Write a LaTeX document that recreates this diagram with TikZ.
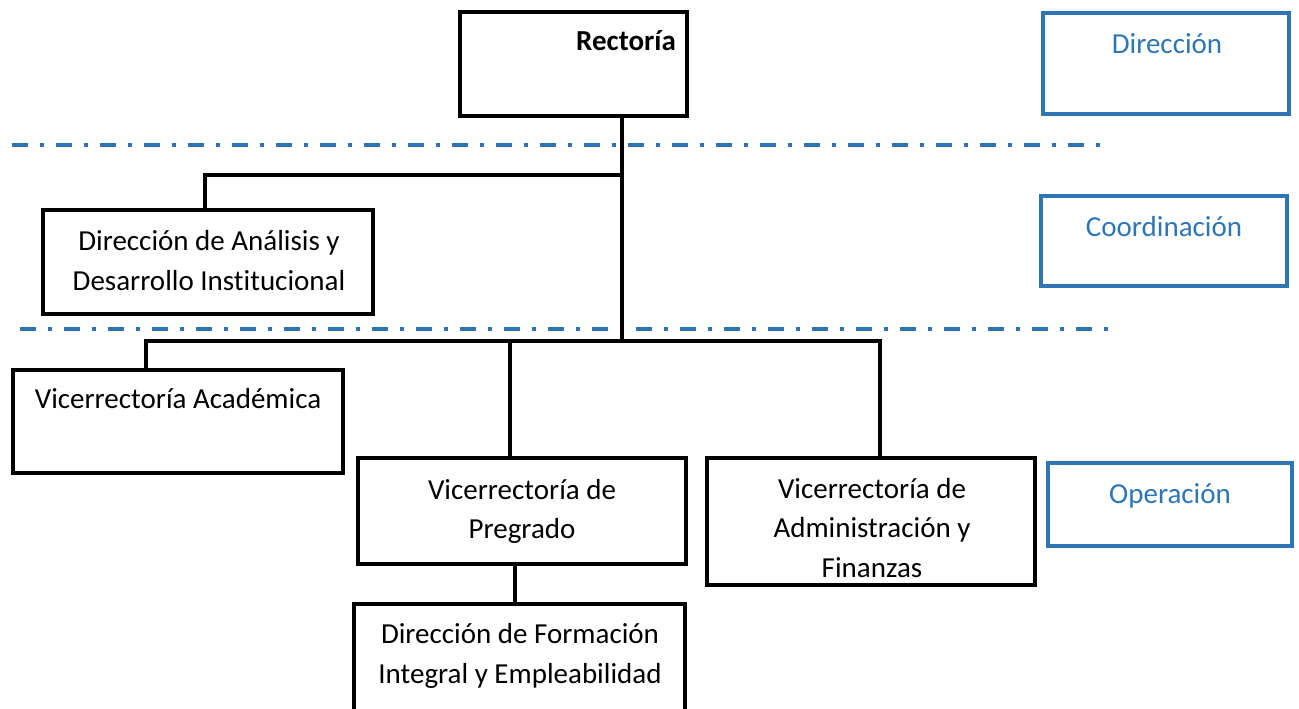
\documentclass[tikz,border=0pt]{standalone}
\usepackage{fontspec}
\setmainfont[Ligatures=NoCommon]{Carlito}
\definecolor{wblue}{HTML}{2E75B6}
\begin{document}
\begin{tikzpicture}[x=1pt,y=-1pt,
  box/.style={draw=black,line width=4pt,inner sep=0pt,rectangle},
  bbox/.style={draw=wblue,line width=3.5pt,inner sep=0pt,rectangle},
  txt/.style={anchor=base,inner sep=0pt,font=\fontsize{29}{35}\selectfont},
  btxt/.style={txt,text=wblue},
  conn/.style={line width=3.5pt},
  level/.style={draw=wblue,line width=4pt,dash pattern=on 16pt off 12pt on 4pt off 12pt}]
\useasboundingbox (0,0) rectangle (1299,709);
\clip (0,0) rectangle (1299,709);
% boxes
\node[box,minimum width=227pt,minimum height=104pt] (rect) at (573.5,64) {};
\node[bbox,minimum width=246pt,minimum height=101pt] (dir) at (1166,63.5) {};
\node[box,minimum width=330pt,minimum height=104pt] (dai) at (208,262) {};
\node[bbox,minimum width=246pt,minimum height=90pt] (coo) at (1164,241) {};
\node[box,minimum width=330pt,minimum height=103pt] (va) at (178,421.5) {};
\node[box,minimum width=328pt,minimum height=106pt] (vp) at (522,511) {};
\node[box,minimum width=328pt,minimum height=127pt] (vf) at (871,521.5) {};
\node[bbox,minimum width=244pt,minimum height=83pt] (op) at (1170,504.5) {};
\node[box,minimum width=331pt,minimum height=126pt] (dfi) at (519.5,667) {};
% texts
\node[txt,font=\fontsize{29}{35}\selectfont\bfseries] (rectT) at (626,51) {Rectoría};
\node[btxt] (dirT) at (1167,54) {Dirección};
\node[txt] (daiT1) at (209,250) {Dirección de Análisis y};
\node[txt] (daiT2) at (209,290) {Desarrollo Institucional};
\node[btxt] (cooT) at (1164,236) {Coordinación};
\node[txt] (vaT) at (178,408) {Vicerrectoría Académica};
\node[txt] (vpT1) at (522,499) {Vicerrectoría de};
\node[txt] (vpT2) at (522,538) {Pregrado};
\node[txt] (vfT1) at (872,498) {Vicerrectoría de};
\node[txt] (vfT2) at (872,537) {Administración y};
\node[txt] (vfT3) at (872,577) {Finanzas};
\node[btxt] (opT) at (1170,503) {Operación};
\node[txt] (dfiT1) at (520,643) {Dirección de Formación};
\node[txt] (dfiT2) at (520,683) {Integral y Empleabilidad};
% level lines
\coordinate (l1a) at (12,145); \coordinate (l1b) at (1100,145);
\coordinate (l2a) at (20,329); \coordinate (l2b) at (1110,329);
\draw[level] (l1a) -- (l1b);
\draw[level] (l2a) -- (l2b);
% connectors
\coordinate (j1) at (622,175);
\coordinate (j2) at (622,341);
\coordinate (bdai) at (205,175);
\coordinate (bva) at (146,341);
\coordinate (bvp) at (510,341);
\coordinate (bvf) at (880,341);
\coordinate (bdfi) at (515,566);
\draw[conn] (rect.south -| j1) -- (j2);
\draw[conn] (j1) -- (bdai) -- (bdai |- dai.north);
\draw[conn] (bva |- va.north) -- (bva) -- (bvf) -- (bvf |- vf.north);
\draw[conn] (bvp) -- (bvp |- vp.north);
\draw[conn] (bdfi |- vp.south) -- (bdfi |- dfi.north);
\end{tikzpicture}
\end{document}
